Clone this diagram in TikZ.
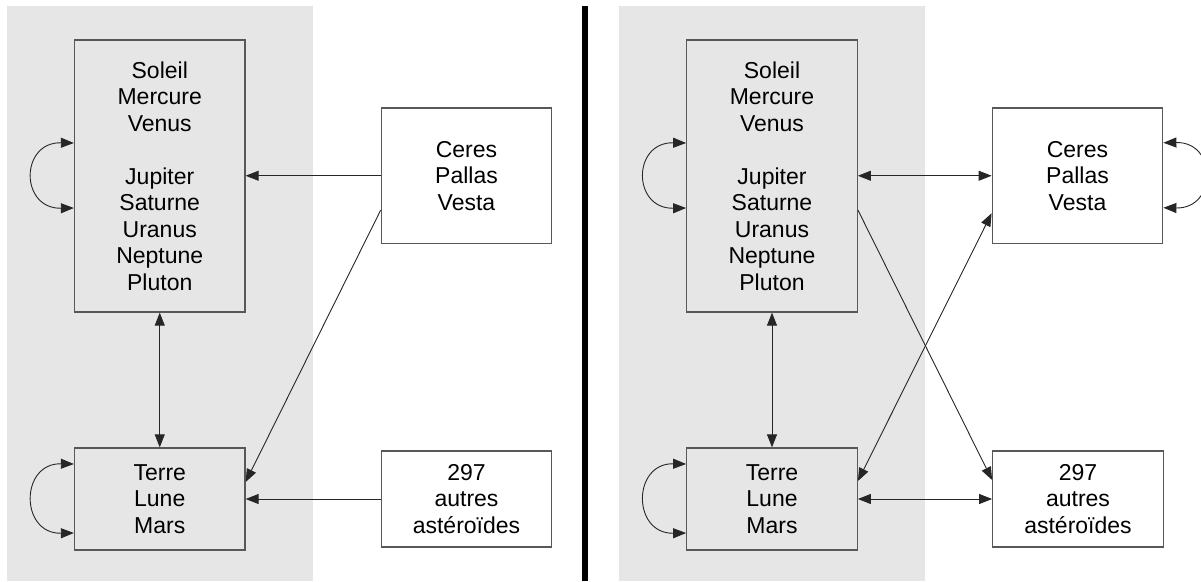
\documentclass[tikz,border=0pt]{standalone}
\usepackage{fontspec}
\setmainfont{Liberation Sans}
\usetikzlibrary{arrows.meta,calc}
\definecolor{panelgray}{HTML}{E6E6E6}
\definecolor{boxborder}{HTML}{585858}
\tikzset{
  box/.style={draw=boxborder, line width=1.3pt, minimum width=170.5pt, align=center,
    font=\fontsize{23}{26.5}\selectfont, inner sep=0pt},
  link/.style={line width=0.9pt, draw=black!85, -{Triangle[length=13pt,width=10pt]}},
  both/.style={line width=0.9pt, draw=black!85, {Triangle[length=13pt,width=10pt]}-{Triangle[length=13pt,width=10pt]}},
}
\begin{document}
\begin{tikzpicture}[x=1pt,y=-1pt]
\useasboundingbox (0,0) rectangle (1201,581);
% panels
\fill[panelgray] (7,6) rectangle (313,581);
\fill[panelgray] (619,6) rectangle (925,581);
\draw[line width=6pt] (585,6) -- (585,581);
% left nodes
\node[box, fill=panelgray, minimum height=272pt] (s1) at (159.75,176) {Soleil\\Mercure\\Venus\\[26.5pt]Jupiter\\Saturne\\Uranus\\Neptune\\Pluton};
\node[box, fill=white, minimum height=135.5pt] (c1) at (466.5,175.75) {Ceres\\Pallas\\Vesta};
\node[box, fill=panelgray, minimum height=102pt] (t1) at (159.75,499) {Terre\\Lune\\Mars};
\node[box, fill=white, minimum height=96pt] (a1) at (466.5,499) {297\\autres\\astéroïdes};
% right nodes
\node[box, fill=panelgray, minimum height=272pt] (s2) at (772,176) {Soleil\\Mercure\\Venus\\[26.5pt]Jupiter\\Saturne\\Uranus\\Neptune\\Pluton};
\node[box, fill=white, minimum height=135.5pt] (c2) at (1077.5,175.75) {Ceres\\Pallas\\Vesta};
\node[box, fill=panelgray, minimum height=102pt] (t2) at (772,499) {Terre\\Lune\\Mars};
\node[box, fill=white, minimum height=96pt] (a2) at (1078,499) {297\\autres\\astéroïdes};
% left connectors
\draw[link] (c1.west) -- (c1.west -| s1.east);
\draw[link] ($(c1.west)+(0,34.5)$) -- ($(t1.east)+(0,-17)$);
\draw[both] (s1.south) -- (t1.north);
\draw[link] (a1.west) -- (a1.west -| t1.east);
\draw[both] ($(s1.west)+(0,-33)$) .. controls +(-54,-1) and +(-54,1) .. ($(s1.west)+(0,32)$);
\draw[both] ($(t1.west)+(0,-35)$) .. controls +(-54,-1) and +(-54,1) .. ($(t1.west)+(0,34)$);
% right connectors
\draw[both] (c2.west -| s2.east) -- (c2.west);
\draw[link] ($(s2.east)+(0,34)$) -- ($(a2.west)+(0,-19)$);
\draw[both] ($(c2.west)+(0,37.5)$) -- ($(t2.east)+(0,-18)$);
\draw[both] (s2.south) -- (t2.north);
\draw[both] (t2.east) -- (t2.east -| a2.west);
\draw[both] ($(s2.west)+(0,-33)$) .. controls +(-54,-1) and +(-54,1) .. ($(s2.west)+(0,32)$);
\draw[both] ($(t2.west)+(0,-35)$) .. controls +(-54,-1) and +(-54,1) .. ($(t2.west)+(0,34)$);
\draw[both] ($(c2.east)+(0,-33)$) .. controls +(54,-1) and +(54,1) .. ($(c2.east)+(0,32)$);
\end{tikzpicture}
\end{document}
